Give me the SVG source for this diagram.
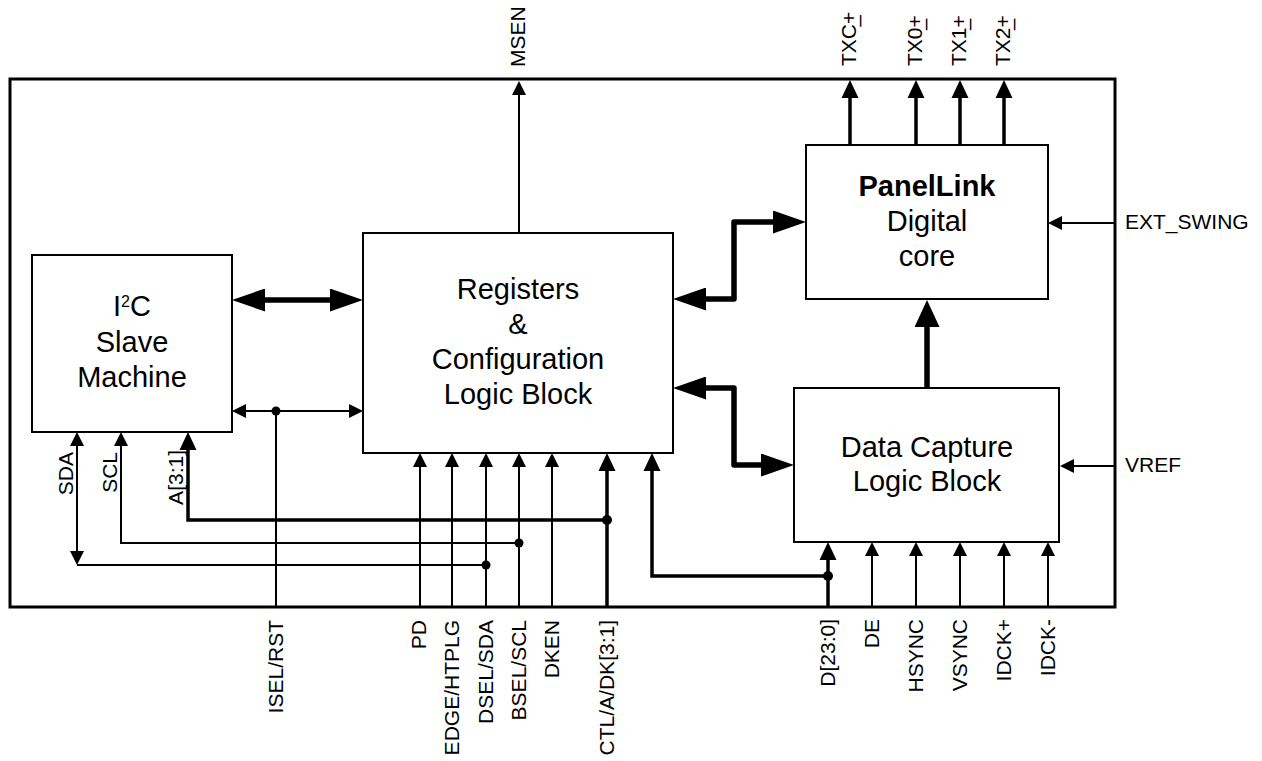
<svg xmlns="http://www.w3.org/2000/svg" width="1262" height="761" viewBox="0 0 1262 761">
<style>
.box{fill:#fff;stroke:#000;stroke-width:2}
.frame{fill:none;stroke:#000;stroke-width:3}
.bt{font-family:"Liberation Sans",Arial,sans-serif;font-size:29px;fill:#000;text-anchor:middle}
.lb{font-family:"Liberation Sans",Arial,sans-serif;font-size:21px;fill:#000}
.thin{fill:none;stroke:#000;stroke-width:2}
.med{fill:none;stroke:#000;stroke-width:3.5}
.bus{fill:none;stroke:#000;stroke-width:5.5;stroke-linejoin:round}
.dot{fill:#000}
</style>
<defs>
<marker id="aT" markerUnits="userSpaceOnUse" markerWidth="14" markerHeight="14" refX="0" refY="7" orient="auto-start-reverse" viewBox="0 0 14 14"><path d="M0,0 L14,7 L0,14 z" fill="#000"/></marker>
<marker id="aM" markerUnits="userSpaceOnUse" markerWidth="18" markerHeight="18" refX="0" refY="9" orient="auto-start-reverse" viewBox="0 0 18 18"><path d="M0,0.5 L18,9 L0,17.5 z" fill="#000"/></marker>
<marker id="aB" markerUnits="userSpaceOnUse" markerWidth="33" markerHeight="23" refX="0" refY="11.5" orient="auto-start-reverse" viewBox="0 0 33 23"><path d="M0,0 L33,11.5 L0,23 z" fill="#000"/></marker>
<marker id="aV" markerUnits="userSpaceOnUse" markerWidth="27" markerHeight="25" refX="0" refY="12.5" orient="auto-start-reverse" viewBox="0 0 27 25"><path d="M0,0 L27,12.5 L0,25 z" fill="#000"/></marker>
</defs>

<g id="chip-boundary">
<rect class="frame" x="10" y="79" width="1105" height="528"/>
</g>

<g id="connectors">
<!-- MSEN -->
<path class="thin" d="M519,233 V95" marker-end="url(#aT)"/>
<!-- TX outputs -->
<path class="med" d="M850,145 V98" marker-end="url(#aM)"/>
<path class="med" d="M916,145 V98" marker-end="url(#aM)"/>
<path class="med" d="M960,145 V98" marker-end="url(#aM)"/>
<path class="med" d="M1004,145 V98" marker-end="url(#aM)"/>
<!-- EXT_SWING, VREF -->
<path class="thin" d="M1115,223 H1062" marker-end="url(#aT)"/>
<path class="thin" d="M1115,466 H1074" marker-end="url(#aT)"/>
<!-- buses -->
<path class="bus" d="M706,299 H734 V222 H773" marker-start="url(#aB)" marker-end="url(#aB)"/>
<path class="bus" d="M706,388 H734 V465 H761" marker-start="url(#aB)" marker-end="url(#aB)"/>
<path class="bus" d="M927,388 V327" stroke-linecap="round" marker-end="url(#aV)"/>
<path class="bus" d="M265,300 H330" marker-start="url(#aB)" marker-end="url(#aB)"/>
<!-- I2C / registers reset -->
<path class="thin" d="M246,411 H349" marker-start="url(#aT)" marker-end="url(#aT)"/>
<path class="thin" d="M276,411 V607"/>
<circle class="dot" cx="276" cy="411" r="4.5"/>
<!-- SDA -->
<path class="thin" d="M77,446 V551" marker-start="url(#aT)" marker-end="url(#aT)"/>
<path class="thin" d="M77,565 H486"/>
<circle class="dot" cx="486" cy="565" r="4.5"/>
<!-- SCL -->
<path class="thin" d="M121,446 V543 H519" marker-start="url(#aT)"/>
<circle class="dot" cx="519" cy="543" r="4.5"/>
<!-- A[3:1] -->
<path class="med" d="M188,450 V520 H607" marker-start="url(#aM)"/>
<circle class="dot" cx="607" cy="520" r="5"/>
<!-- register inputs -->
<path class="thin" d="M420,607 V467" marker-end="url(#aT)"/>
<path class="thin" d="M452,607 V467" marker-end="url(#aT)"/>
<path class="thin" d="M486,607 V467" marker-end="url(#aT)"/>
<path class="thin" d="M519,607 V467" marker-end="url(#aT)"/>
<path class="thin" d="M552,607 V467" marker-end="url(#aT)"/>
<path class="med" d="M607,607 V471" marker-end="url(#aM)"/>
<!-- data bus feedback -->
<path class="med" d="M828,576 H652 V471" marker-end="url(#aM)"/>
<circle class="dot" cx="828" cy="576" r="5"/>
<!-- data capture inputs -->
<path class="med" d="M828,607 V560" marker-end="url(#aM)"/>
<path class="thin" d="M872,607 V556" marker-end="url(#aT)"/>
<path class="thin" d="M916,607 V556" marker-end="url(#aT)"/>
<path class="thin" d="M960,607 V556" marker-end="url(#aT)"/>
<path class="thin" d="M1004,607 V556" marker-end="url(#aT)"/>
<path class="thin" d="M1048,607 V556" marker-end="url(#aT)"/>
</g>

<g id="i2c">
<rect class="box" x="32" y="255" width="200" height="177"/>
<text class="bt" x="132" y="316">I<tspan font-size="16" dy="-9">2</tspan><tspan dy="9">C</tspan></text>
<text class="bt" x="132" y="352">Slave</text>
<text class="bt" x="132" y="387">Machine</text>
</g>

<g id="registers">
<rect class="box" x="363" y="233" width="310" height="220"/>
<text class="bt" x="518" y="299">Registers</text>
<text class="bt" x="518" y="334">&amp;</text>
<text class="bt" x="518" y="369">Configuration</text>
<text class="bt" x="518" y="404">Logic Block</text>
</g>

<g id="panellink">
<rect class="box" x="806" y="145" width="242" height="154"/>
<text class="bt" x="927" y="196" font-weight="bold">PanelLink</text>
<text class="bt" x="927" y="231">Digital</text>
<text class="bt" x="927" y="266">core</text>
</g>

<g id="datacapture">
<rect class="box" x="794" y="388" width="265" height="154"/>
<text class="bt" x="927" y="457">Data Capture</text>
<text class="bt" x="927" y="491">Logic Block</text>
</g>

<g id="pin-labels">
<text class="lb" transform="translate(525,67) rotate(-90)">MSEN</text>
<text class="lb" transform="translate(856,66) rotate(-90)">TXC+<tspan dx="-15" dy="10">–</tspan></text>
<text class="lb" transform="translate(922,66) rotate(-90)">TX0+<tspan dx="-15" dy="10">–</tspan></text>
<text class="lb" transform="translate(966,66) rotate(-90)">TX1+<tspan dx="-15" dy="10">–</tspan></text>
<text class="lb" transform="translate(1010,66) rotate(-90)">TX2+<tspan dx="-15" dy="10">–</tspan></text>
<text class="lb" x="1125" y="229">EXT_SWING</text>
<text class="lb" x="1125" y="472">VREF</text>
<text class="lb" text-anchor="end" transform="translate(73,452) rotate(-90)">SDA</text>
<text class="lb" text-anchor="end" transform="translate(117,452) rotate(-90)">SCL</text>
<text class="lb" text-anchor="end" transform="translate(183,450) rotate(-90)">A[3:1]</text>
<text class="lb" text-anchor="end" transform="translate(283,620) rotate(-90)">ISEL/RST</text>
<text class="lb" text-anchor="end" transform="translate(426,620) rotate(-90)">PD</text>
<text class="lb" text-anchor="end" transform="translate(459,620) rotate(-90)">EDGE/HTPLG</text>
<text class="lb" text-anchor="end" transform="translate(493,620) rotate(-90)">DSEL/SDA</text>
<text class="lb" text-anchor="end" transform="translate(526,620) rotate(-90)">BSEL/SCL</text>
<text class="lb" text-anchor="end" transform="translate(559,620) rotate(-90)">DKEN</text>
<text class="lb" text-anchor="end" transform="translate(614,620) rotate(-90)">CTL/A/DK[3:1]</text>
<text class="lb" text-anchor="end" transform="translate(835,619) rotate(-90)">D[23:0]</text>
<text class="lb" text-anchor="end" transform="translate(879,619) rotate(-90)">DE</text>
<text class="lb" text-anchor="end" transform="translate(923,619) rotate(-90)">HSYNC</text>
<text class="lb" text-anchor="end" transform="translate(967,619) rotate(-90)">VSYNC</text>
<text class="lb" text-anchor="end" transform="translate(1011,619) rotate(-90)">IDCK+</text>
<text class="lb" text-anchor="end" transform="translate(1055,619) rotate(-90)">IDCK-</text>
</g>
</svg>
